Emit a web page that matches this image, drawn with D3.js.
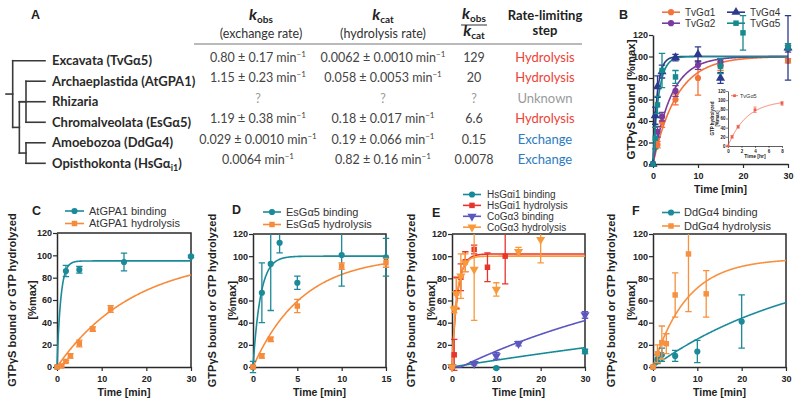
<!DOCTYPE html>
<html>
<head>
<meta charset="utf-8">
<script src="https://cdn.jsdelivr.net/npm/d3@7"></script>
<style>
  body { margin: 0; background: #fff; }
  svg { display: block; }
</style>
</head>
<body>
<svg id="fig" width="800" height="403"></svg>
<script>
// ---------------- panel A: table ----------------
var cladeNames = ["Excavata (TvGα5)", "Archaeplastida (AtGPA1)", "Rhizaria",
                  "Chromalveolata (EsGα5)", "Amoebozoa (DdGα4)", "Opisthokonta (HsGα"];
var cladeSubs  = ["", "", "", "", "", "i1"];
var kobsVals   = ["0.80 ± 0.17", "1.15 ± 0.23", "?", "1.19 ± 0.38", "0.029 ± 0.0010", "0.0064"];
var kcatVals   = ["0.0062 ± 0.0010", "0.058 ± 0.0053", "?", "0.18 ± 0.017", "0.19 ± 0.066", "0.82 ± 0.16"];
var ratioVals  = ["129", "20", "?", "6.6", "0.15", "0.0078"];
var limitSteps = ["Hydrolysis", "Hydrolysis", "Unknown", "Hydrolysis", "Exchange", "Exchange"];

// tree topology, leaf = table row
var cladeTree = {children: [
  {leaf: 0},
  {children: [
    {children: [{leaf: 1}, {leaf: 3}]},
    {leaf: 2},
    {children: [{leaf: 4}, {leaf: 5}]}
  ]}
]};

// ---------------- kinetics, points are [time, value, error] ----------------
// B : TvG alpha subunits, GTPgS binding
var tvga1 = [[0,0,0],[1,18,3],[2,39,5],[5,60,5],[10,80,16],[15,91,4],[30,96,2]];
var tvga2 = [[0,0,0],[1,30,5],[2,44,4],[5,68,5],[10,92,4],[15,95,3],[30,107,3]];
var tvga4 = [[0,0,0],[0.5,45,8],[1,72,10],[2,86,6],[5,99,3],[10,102,7],[15,80,5],[30,108,30]];
var tvga5 = [[0,0,0],[0.5,24,10],[1,55,8],[2,87,16],[5,81,6],[15,91,7],[20,122,16],[30,109,3]];
// B inset : TvGa5 hydrolysis (hours)
var tvga5Hyd = [[0,0,1],[0.6,20,3],[1.5,42,3],[4,79,6],[8,93,4]];
// C
var atBind = [[0,0,0],[2,86,5],[5,87,3],[15,94,8],[30,99,1]];
var atHyd  = [[0,0,0],[1,1,1],[2,5,1],[3,10,2],[5,21,3],[8,34,2],[12,52,3]];
// D
var esBind = [[0,0,5],[1,67,27],[2,93,42],[3,112,9],[5,76,6],[10,101,28],[15,99,17]];
var esHyd  = [[0,0,1],[1,10,2],[2,25,2],[5,55,6],[10,91,3],[15,94,4]];
// E
var hsBind = [[0,0,1],[10,-1,1],[30,14,2]];
var hsHyd  = [[0,0,1],[0.5,11,14],[1,67,14],[2,81,12],[3,95,9],[5,106,4],[8,90,13],[12,100,25]];
var coBind = [[0,0,1],[5,3,1],[10,10,3],[15,21,2],[30,47,3]];
var coHyd  = [[0,0,1],[0.5,52,3],[1,66,14],[2,82,20],[3,94,8],[5,88,46],[10,70,6],[15,104,4],[20,115,21]];
// F
var ddBind = [[0,0,1],[1,7,4],[2,11,6],[5,10,5],[10,14,10],[20,41,24]];
var ddHyd  = [[0,0,1],[1,12,8],[2,22,15],[3,21,9],[5,65,20],[8,102,52],[12,66,21]];

// fitted one-phase curves : [plateau, k, lag]
var fitTvga1 = [100, 0.19, 0], fitTvga2 = [100, 0.25, 0], fitTvga4 = [100, 1.1, 0], fitTvga5 = [100, 0.8, 0];
var fitTvga5Hyd = [100, 0.36, 0];
var fitAtBind = [95, 1.2, 0],  fitAtHyd = [100, 0.058, 0];
var fitEsBind = [100, 1.19, 0], fitEsHyd = [100, 0.18, 0];
var fitHsBind = [100, 0.0064, 0], fitHsHyd = [102, 0.82, 0];
var fitCoBind = [100, 0.0194, 2], fitCoHyd = [100, 0.9, 0];
var fitDdBind = [100, 0.029, 0], fitDdHyd = [98, 0.13, 0];

var yTicks = [0, 20, 40, 60, 80, 100, 120];

var svg = d3.select("#fig");
var PF = "'Liberation Sans', Arial, Helvetica, sans-serif";
var TF = "Lato, 'Open Sans', sans-serif";

// =============== panel A ===============
var gA = svg.append("g").attr("font-family", TF);

var rowY = d3.scaleLinear().domain([0, 5]).range([60.7, 163.3]);
var depthX = d3.scaleLinear().domain([0, 2]).range([12.7, 26]);
var leafX = 45;

var root = d3.hierarchy(cladeTree);
root.eachAfter(function(n) {
  n.row = n.children ? (n.children[0].row + n.children[n.children.length - 1].row) / 2 : n.data.leaf;
});
function nodeX(n) { return n.children ? depthX(n.depth) : leafX; }

var segs = [[6, root.row, depthX(0), root.row]];
root.each(function(n) {
  if (!n.children) return;
  var cs = n.children;
  segs.push([nodeX(n), cs[0].row, nodeX(n), cs[cs.length - 1].row]);
  cs.forEach(function(c) { segs.push([nodeX(n), c.row, nodeX(c), c.row]); });
});

gA.selectAll(".branch").data(segs).enter().append("line")
  .attr("class", "branch")
  .attr("x1", function(d) { return d[0]; })
  .attr("x2", function(d) { return d[2]; })
  .attr("y1", function(d) { return rowY(d[1]); })
  .attr("y2", function(d) { return rowY(d[3]); })
  .attr("stroke", "#3a3a3a")
  .attr("stroke-width", 1.6)
  .attr("stroke-linecap", "square");

gA.selectAll(".clade").data(cladeNames).enter().append("text")
  .attr("class", "clade")
  .attr("x", 52)
  .attr("y", function(d, i) { return rowY(i) + 4.7; })
  .attr("font-size", 13)
  .attr("font-weight", "bold")
  .attr("fill", "#2a2a2a")
  .each(function(d, i) {
    var t = d3.select(this);
    t.append("tspan").text(d);
    if (cladeSubs[i]) {
      t.append("tspan").attr("font-size", 9).attr("dy", 3).text(cladeSubs[i]);
      t.append("tspan").attr("dy", -3).text(")");
    }
  });

// header
var hdrX = [261, 383, 474, 545];
function kSym(sel, sub) {
  sel.append("tspan").attr("font-style", "italic").attr("font-weight", "bold").attr("font-size", 16).text("k");
  sel.append("tspan").attr("font-weight", "bold").attr("font-size", 10).attr("dy", 2.5).text(sub);
}
var h1 = gA.append("text").attr("x", hdrX[0]).attr("y", 20).attr("text-anchor", "middle").attr("fill", "#222");
kSym(h1, "obs");
gA.append("text").attr("x", hdrX[0]).attr("y", 38).attr("text-anchor", "middle")
  .attr("font-size", 12.5).attr("fill", "#333").text("(exchange rate)");
var h2 = gA.append("text").attr("x", hdrX[1]).attr("y", 20).attr("text-anchor", "middle").attr("fill", "#222");
kSym(h2, "cat");
gA.append("text").attr("x", hdrX[1]).attr("y", 38).attr("text-anchor", "middle")
  .attr("font-size", 12.5).attr("fill", "#333").text("(hydrolysis rate)");
var h3 = gA.append("text").attr("x", hdrX[2]).attr("y", 19).attr("text-anchor", "middle").attr("fill", "#222");
kSym(h3, "obs");
gA.append("line").attr("x1", hdrX[2] - 13).attr("x2", hdrX[2] + 13).attr("y1", 25).attr("y2", 25)
  .attr("stroke", "#333").attr("stroke-width", 1);
var h4 = gA.append("text").attr("x", hdrX[2]).attr("y", 36).attr("text-anchor", "middle").attr("fill", "#222");
kSym(h4, "cat");
gA.append("text").attr("x", hdrX[3]).attr("y", 20).attr("text-anchor", "middle")
  .attr("font-size", 13).attr("font-weight", "bold").attr("fill", "#222").text("Rate-limiting");
gA.append("text").attr("x", hdrX[3]).attr("y", 35).attr("text-anchor", "middle")
  .attr("font-size", 13).attr("font-weight", "bold").attr("fill", "#222").text("step");
gA.append("line").attr("x1", 194).attr("x2", 582).attr("y1", 44).attr("y2", 44)
  .attr("stroke", "#777").attr("stroke-width", 1);

// body
var colX = [258, 383, 474, 545];
function rateCell(v, i, cx) {
  var t = gA.append("text").attr("x", cx).attr("y", rowY(i) + 0.8).attr("text-anchor", "middle")
    .attr("font-size", 12.5).attr("fill", v === "?" ? "#999" : "#444");
  if (v === "?") { t.text("?"); return; }
  t.append("tspan").text(v + " min");
  t.append("tspan").attr("font-size", 8).attr("dy", -5).text("−1");
}
kobsVals.forEach(function(v, i) { rateCell(v, i, colX[0]); });
kcatVals.forEach(function(v, i) { rateCell(v, i, colX[1]); });
ratioVals.forEach(function(v, i) {
  gA.append("text").attr("x", colX[2]).attr("y", rowY(i) + 0.8).attr("text-anchor", "middle")
    .attr("font-size", 12.5).attr("fill", v === "?" ? "#999" : "#444").text(v);
});
var stepColor = {Hydrolysis: "#ee4236", Exchange: "#2b7bbf", Unknown: "#9a9a9a"};
limitSteps.forEach(function(v, i) {
  gA.append("text").attr("x", colX[3]).attr("y", rowY(i) + 0.8).attr("text-anchor", "middle")
    .attr("font-size", 13).attr("fill", stepColor[v]).text(v);
});

// =============== kinetic panels ===============
function fitAt(f, t) { return t <= f[2] ? 0 : f[0] * (1 - Math.exp(-f[1] * (t - f[2]))); }

var symbolOf = {circle: d3.symbolCircle, square: d3.symbolSquare, up: d3.symbolTriangle, down: d3.symbolTriangle};
var symbolSize = {circle: 30, square: 30, up: 36, down: 36};

function marker(sel, shape, k) {
  sel.attr("d", d3.symbol().type(symbolOf[shape]).size(symbolSize[shape] * k * k));
}

function drawPanel(p) {
  var k = p.scale || 1;
  var x = d3.scaleLinear().domain([0, p.xmax]).range(p.xr);
  var y = d3.scaleLinear().domain([0, 120]).range(p.yr);
  var g = svg.append("g").attr("font-family", PF);

  if (p.bg) g.append("rect").attr("x", p.bg[0]).attr("y", p.bg[1]).attr("width", p.bg[2]).attr("height", p.bg[3]).attr("fill", "#fff");

  var ax = g.append("g").attr("transform", "translate(0," + p.yr[0] + ")")
    .call(d3.axisBottom(x).tickValues(p.xticks).tickSize(4 * k).tickSizeOuter(0).tickPadding(p.xpad));
  var ay = g.append("g").attr("transform", "translate(" + p.xr[0] + ",0)")
    .call(d3.axisLeft(y).tickValues(yTicks).tickSize(4 * k).tickSizeOuter(0).tickPadding(1 * k));
  [ax, ay].forEach(function(a) {
    a.attr("font-family", PF).attr("font-size", p.tickFs).attr("font-weight", "bold");
    a.select(".domain").attr("stroke", "#2a2a2a").attr("stroke-width", 1.5 * k);
    a.selectAll(".tick line").attr("stroke", "#2a2a2a").attr("stroke-width", 1.2 * k);
    a.selectAll(".tick text").attr("fill", "#222");
  });
  if (p.box) {
    g.append("path")
      .attr("d", "M" + p.xr[0] + "," + y(120) + "H" + p.xr[1] + "V" + y(0))
      .attr("fill", "none").attr("stroke", "#2a2a2a").attr("stroke-width", 1.5);
  }

  var area = g.append("g");
  if (p.box) {
    var cid = "clip" + p.letter;
    svg.append("clipPath").attr("id", cid).append("rect")
      .attr("x", p.xr[0] - 8).attr("y", y(120))
      .attr("width", p.xr[1] - p.xr[0] + 16).attr("height", y(0) - y(120) + 8);
    area.attr("clip-path", "url(#" + cid + ")");
  }

  var tt = d3.range(0, 301).map(function(i) { return p.xmax * i / 300; });
  p.series.forEach(function(s) {
    area.append("path").datum(tt)
      .attr("fill", "none").attr("stroke", s.color).attr("stroke-width", 1.6 * k)
      .attr("d", d3.line().x(function(t) { return x(t); }).y(function(t) { return y(fitAt(s.fit, t)); }));
  });
  p.series.forEach(function(s) {
    area.selectAll(null).data(s.pts.filter(function(d) { return d[2] > 0; })).enter().append("path")
      .attr("fill", "none").attr("stroke", s.color).attr("stroke-width", 1.3 * k)
      .attr("d", function(d) {
        var cx = x(d[0]), lo = y(d[1] - d[2]), hi = y(d[1] + d[2]), w = 3.2 * k;
        return "M" + cx + "," + lo + "V" + hi +
               "M" + (cx - w) + "," + hi + "H" + (cx + w) +
               "M" + (cx - w) + "," + lo + "H" + (cx + w);
      });
    area.selectAll(null).data(s.pts).enter().append("path")
      .attr("fill", s.color)
      .attr("transform", function(d) {
        return "translate(" + x(d[0]) + "," + y(d[1]) + ")" + (s.shape === "down" ? " rotate(180)" : "");
      })
      .call(marker, s.shape, k);
  });

  // axis titles
  g.append("text").attr("x", (p.xr[0] + p.xr[1]) / 2).attr("y", p.xlabY)
    .attr("text-anchor", "middle").attr("font-size", p.labFs).attr("font-weight", "bold").attr("fill", "#222")
    .text(p.xlab);
  p.ylab.forEach(function(line, i) {
    g.append("text")
      .attr("transform", "translate(" + (p.xr[0] + p.ylabOff[i]) + "," + ((p.yr[0] + p.yr[1]) / 2) + ") rotate(-90)")
      .attr("text-anchor", "middle").attr("font-size", p.ylabFs).attr("font-weight", "bold").attr("fill", "#222")
      .text(line);
  });

  // legend
  var L = p.legend;
  p.series.forEach(function(s, i) {
    var lx = L.xs[Math.floor(i / L.perCol)], ly = L.y0 + (i % L.perCol) * L.dy;
    var lg = g.append("g").attr("transform", "translate(" + lx + "," + ly + ")");
    lg.append("line").attr("x1", 0).attr("x2", L.len).attr("stroke", s.color).attr("stroke-width", 1.6 * k);
    lg.append("path").attr("fill", s.color)
      .attr("transform", "translate(" + (L.len / 2) + ",0)" + (s.shape === "down" ? " rotate(180)" : ""))
      .call(marker, s.shape, k);
    lg.append("text").attr("x", L.len + L.gap).attr("y", L.fs * 0.36)
      .attr("font-size", L.fs).attr("fill", "#333").text(s.label);
  });

  if (p.letterPos) {
    svg.append("text").attr("x", p.letterPos[0]).attr("y", p.letterPos[1])
      .attr("font-family", PF).attr("font-weight", "bold").attr("font-size", 12.5).attr("fill", "#222")
      .text(p.letter);
  }
}

svg.append("text").attr("x", 31).attr("y", 19).attr("font-family", PF)
  .attr("font-weight", "bold").attr("font-size", 12.5).attr("fill", "#222").text("A");

var teal = "#1b8a99", orange = "#f78b3c";

drawPanel({letter: "B", letterPos: [619, 19], xmax: 30, xr: [653, 788], yr: [164, 35], xticks: [0, 10, 20, 30],
  box: false, tickFs: 9, xpad: 5, labFs: 10.5, xlab: "Time [min]", xlabY: 193,
  ylab: ["GTPγS bound [%max]"], ylabOff: [-18], ylabFs: 11.5,
  legend: {xs: [662, 727], y0: 12.2, dy: 11, perCol: 2, len: 18, gap: 5, fs: 10},
  series: [
    {label: "TvGα1", pts: tvga1, fit: fitTvga1, color: "#f4733a", shape: "circle"},
    {label: "TvGα2", pts: tvga2, fit: fitTvga2, color: "#7b3b9c", shape: "circle"},
    {label: "TvGα4", pts: tvga4, fit: fitTvga4, color: "#2c3a8e", shape: "up"},
    {label: "TvGα5", pts: tvga5, fit: fitTvga5, color: "#168a8c", shape: "square"}
  ]});

drawPanel({letter: "Bi", xmax: 8, xr: [728, 782], yr: [146, 91], xticks: [0, 2, 4, 6, 8],
  box: false, scale: 0.5, bg: [707, 86, 84, 76], tickFs: 4.5, xpad: 1.5, labFs: 5, xlab: "Time [hr]", xlabY: 158,
  ylab: ["GTP hydrolyzed", "[%max]"], ylabOff: [-14, -9.5], ylabFs: 4.5,
  legend: {xs: [731], y0: 95.7, dy: 6, perCol: 1, len: 7, gap: 2, fs: 5.5},
  series: [{label: "TvGα5", pts: tvga5Hyd, fit: fitTvga5Hyd, color: "#ef5e48", shape: "square"}]});

var yl2 = ["GTPγS bound or GTP hydrolyzed", "[%max]"];

drawPanel({letter: "C", letterPos: [32, 215], xmax: 30, xr: [57, 191], yr: [367, 233], xticks: [0, 10, 20, 30],
  box: true, tickFs: 9, xpad: 4.5, labFs: 10.5, xlab: "Time [min]", xlabY: 396,
  ylab: yl2, ylabOff: [-41, -21], ylabFs: 11,
  legend: {xs: [65], y0: 211, dy: 12.5, perCol: 2, len: 19, gap: 5, fs: 11},
  series: [
    {label: "AtGPA1 binding", pts: atBind, fit: fitAtBind, color: teal, shape: "circle"},
    {label: "AtGPA1 hydrolysis", pts: atHyd, fit: fitAtHyd, color: orange, shape: "square"}
  ]});

drawPanel({letter: "D", letterPos: [232, 214], xmax: 15, xr: [253, 386], yr: [367, 234], xticks: [0, 5, 10, 15],
  box: true, tickFs: 9, xpad: 4.5, labFs: 10.5, xlab: "Time [min]", xlabY: 396,
  ylab: yl2, ylabOff: [-37, -17], ylabFs: 11,
  legend: {xs: [263], y0: 212, dy: 12.5, perCol: 2, len: 18, gap: 5, fs: 11},
  series: [
    {label: "EsGα5 binding", pts: esBind, fit: fitEsBind, color: teal, shape: "circle"},
    {label: "EsGα5 hydrolysis", pts: esHyd, fit: fitEsHyd, color: orange, shape: "square"}
  ]});

drawPanel({letter: "E", letterPos: [432, 217], xmax: 30, xr: [452, 585], yr: [367, 234], xticks: [0, 10, 20, 30],
  box: true, tickFs: 9, xpad: 4.5, labFs: 10.5, xlab: "Time [min]", xlabY: 396,
  ylab: yl2, ylabOff: [-37, -17], ylabFs: 11,
  legend: {xs: [463], y0: 194.5, dy: 10.9, perCol: 4, len: 18, gap: 6, fs: 10},
  series: [
    {label: "HsGαi1 binding", pts: hsBind, fit: fitHsBind, color: "#168a96", shape: "circle"},
    {label: "HsGαi1 hydrolysis", pts: hsHyd, fit: fitHsHyd, color: "#e8352b", shape: "square"},
    {label: "CoGα3 binding", pts: coBind, fit: fitCoBind, color: "#5b56c0", shape: "down"},
    {label: "CoGα3 hydrolysis", pts: coHyd, fit: fitCoHyd, color: "#f8993a", shape: "down"}
  ]});

drawPanel({letter: "F", letterPos: [632, 215], xmax: 30, xr: [653, 786], yr: [367, 234], xticks: [0, 10, 20, 30],
  box: true, tickFs: 9, xpad: 4.5, labFs: 10.5, xlab: "Time [min]", xlabY: 396,
  ylab: yl2, ylabOff: [-38, -18], ylabFs: 11,
  legend: {xs: [662], y0: 212.5, dy: 13.5, perCol: 2, len: 18, gap: 4, fs: 11},
  series: [
    {label: "DdGα4 binding", pts: ddBind, fit: fitDdBind, color: teal, shape: "circle"},
    {label: "DdGα4 hydrolysis", pts: ddHyd, fit: fitDdHyd, color: "#f7913f", shape: "square"}
  ]});
</script>
</body>
</html>
